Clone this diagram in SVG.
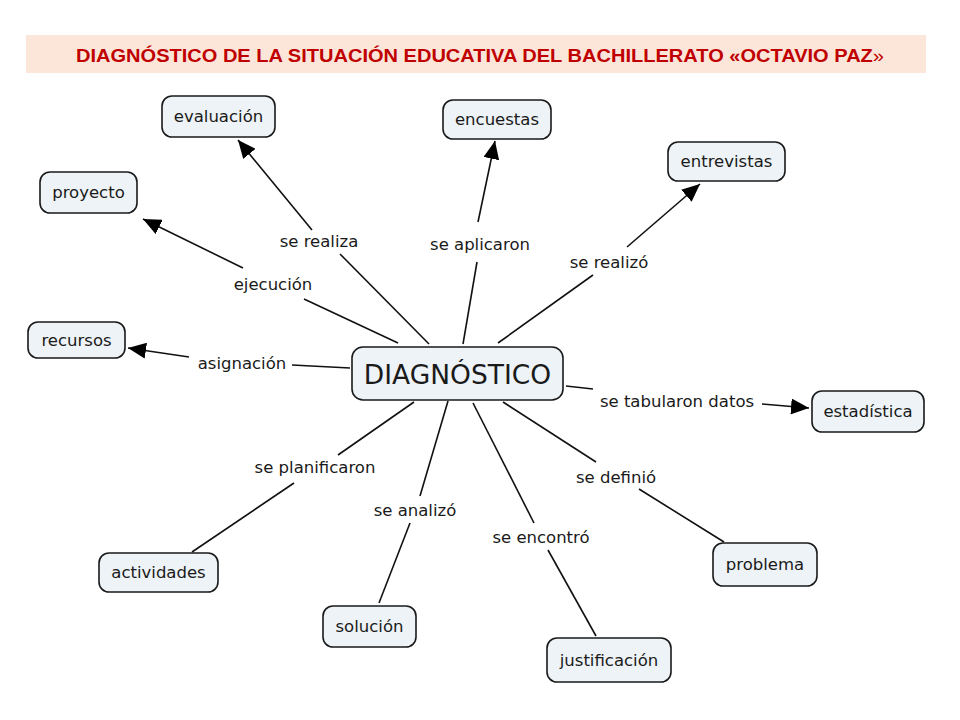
<svg xmlns="http://www.w3.org/2000/svg" width="960" height="720" viewBox="0 0 960 720">
<style>
.node rect{fill:#edf3f6;stroke:#1a1a1a;stroke-width:1.6}
.node text,.lbl{font-family:"DejaVu Sans",Verdana,sans-serif;font-size:16.5px;fill:#1a1a1a;text-anchor:middle;dominant-baseline:central}
.big{font-size:26.5px !important}
.ln{stroke:#111;stroke-width:1.6;fill:none}
.title{font-family:"Liberation Sans",Arial,sans-serif;font-weight:bold;font-size:18px;fill:#c00000}
</style>
<defs>
<marker id="ah" markerUnits="userSpaceOnUse" markerWidth="20" markerHeight="16" refX="18" refY="8" orient="auto">
<path d="M0,0 L18,8 L0,16 Z" fill="#000"/>
</marker>
</defs>
<rect width="960" height="720" fill="#fff"/>
<g id="title">
<rect x="26" y="35" width="900" height="38" fill="#fce6d9"/>
<text class="title" x="76" y="61.5" textLength="808" lengthAdjust="spacingAndGlyphs">DIAGNÓSTICO DE LA SITUACIÓN EDUCATIVA DEL BACHILLERATO «OCTAVIO  PAZ<tspan font-weight="normal">»</tspan></text>
</g>
<g id="connectors">
<line class="ln" x1="429" y1="344" x2="340" y2="254"/>
<line class="ln" x1="312" y1="230" x2="238" y2="140" marker-end="url(#ah)"/>
<line class="ln" x1="398" y1="343" x2="304" y2="299"/>
<line class="ln" x1="243" y1="268" x2="143" y2="219" marker-end="url(#ah)"/>
<line class="ln" x1="350" y1="368" x2="292" y2="365"/>
<line class="ln" x1="189" y1="357" x2="128" y2="348" marker-end="url(#ah)"/>
<line class="ln" x1="463" y1="344" x2="477" y2="262"/>
<line class="ln" x1="478" y1="222" x2="495" y2="141" marker-end="url(#ah)"/>
<line class="ln" x1="498" y1="343" x2="593" y2="275"/>
<line class="ln" x1="627" y1="247" x2="700" y2="184" marker-end="url(#ah)"/>
<line class="ln" x1="566" y1="386" x2="593" y2="389"/>
<line class="ln" x1="762" y1="404" x2="809" y2="408" marker-end="url(#ah)"/>
<line class="ln" x1="503" y1="402" x2="596" y2="462"/>
<line class="ln" x1="639" y1="489" x2="724" y2="542"/>
<line class="ln" x1="473" y1="403" x2="534" y2="523"/>
<line class="ln" x1="548" y1="550" x2="596" y2="636"/>
<line class="ln" x1="448" y1="401" x2="420" y2="496"/>
<line class="ln" x1="410" y1="523" x2="379" y2="603"/>
<line class="ln" x1="414" y1="402" x2="338" y2="455"/>
<line class="ln" x1="294" y1="483" x2="192" y2="552"/>
</g>
<g id="labels">
<text class="lbl" x="319" y="241">se realiza</text>
<text class="lbl" x="273" y="284">ejecución</text>
<text class="lbl" x="242" y="363">asignación</text>
<text class="lbl" x="480" y="244">se aplicaron</text>
<text class="lbl" x="609" y="262">se realizó</text>
<text class="lbl" x="677" y="401">se tabularon datos</text>
<text class="lbl" x="616" y="477">se definió</text>
<text class="lbl" x="315" y="467">se planificaron</text>
<text class="lbl" x="415" y="510">se analizó</text>
<text class="lbl" x="541" y="537">se encontró</text>
</g>
<g id="n-diagnostico" class="node"><rect x="352" y="347" width="211" height="53" rx="11"/><text class="big" x="457.5" y="374">DIAGNÓSTICO</text></g>
<g id="n-evaluacion" class="node"><rect x="162" y="96" width="113" height="41" rx="10"/><text x="218.5" y="116.5">evaluación</text></g>
<g id="n-proyecto" class="node"><rect x="40" y="172" width="97" height="41" rx="10"/><text x="88.5" y="192.5">proyecto</text></g>
<g id="n-recursos" class="node"><rect x="28" y="322" width="97" height="36" rx="10"/><text x="76.5" y="340">recursos</text></g>
<g id="n-encuestas" class="node"><rect x="443" y="100" width="108" height="39" rx="10"/><text x="497" y="119.5">encuestas</text></g>
<g id="n-entrevistas" class="node"><rect x="668" y="142" width="117" height="39" rx="10"/><text x="726.5" y="161.5">entrevistas</text></g>
<g id="n-estadistica" class="node"><rect x="812" y="391" width="112" height="41" rx="10"/><text x="868" y="411.5">estadística</text></g>
<g id="n-problema" class="node"><rect x="713" y="543" width="104" height="43" rx="10"/><text x="765" y="564">problema</text></g>
<g id="n-actividades" class="node"><rect x="99" y="553" width="119" height="39" rx="10"/><text x="158.5" y="572.5">actividades</text></g>
<g id="n-solucion" class="node"><rect x="323" y="606" width="93" height="41" rx="10"/><text x="369.5" y="626.5">solución</text></g>
<g id="n-justificacion" class="node"><rect x="547" y="638" width="124" height="44" rx="10"/><text x="609" y="660">justificación</text></g>
</svg>
